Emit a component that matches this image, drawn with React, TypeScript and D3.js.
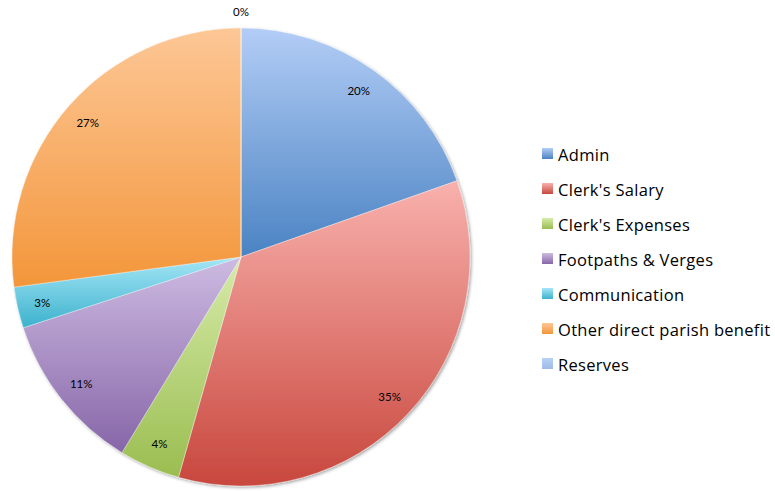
import React from "react";
import * as d3 from "d3";

const categories = [
  "Admin",
  "Clerk's Salary",
  "Clerk's Expenses",
  "Footpaths & Verges",
  "Communication",
  "Other direct parish benefit",
  "Reserves",
];
const values = [19.6, 34.8, 4.3, 11.3, 2.9, 27.1, 0];
const topColors = ["#b3cdf6", "#f9b1ad", "#d6eba9", "#cdbbe2", "#a5e6f6", "#fdc796", "#b9d1f5"];
const bottomColors = ["#4a83c3", "#c8473d", "#9abd50", "#8766a8", "#3cb2cd", "#f3963a", "#9dbbe8"];

const W = 775;
const H = 491;
const cx = 241;
const cy = 257;
const R = 229;

export default function App() {
  const total = d3.sum(values);
  const pie = d3
    .pie<number>()
    .sort(null)
    .value((d) => d)
    .startAngle(0)
    .endAngle(2 * Math.PI);
  const arcs = pie(values);
  const arcGen = d3.arc<d3.PieArcDatum<number>>().innerRadius(0).outerRadius(R);
  const labelArc = d3.arc<d3.PieArcDatum<number>>().innerRadius(R * 0.89).outerRadius(R * 0.89);
  const outerLabelArc = d3.arc<d3.PieArcDatum<number>>().innerRadius(R + 17).outerRadius(R + 17);
  const font = "Lato, 'Open Sans', sans-serif";
  const legendFont = "'Open Sans', Lato, sans-serif";

  return (
    <svg
      width={W}
      height={H}
      style={{ position: "absolute", left: 0, top: 0, display: "block", background: "#fff" }}
    >
      <defs>
        {categories.map((c, i) => (
          <linearGradient key={c} id={`g${i}`} x1="0" y1="0" x2="0" y2="1">
            <stop offset="0" stopColor={topColors[i]} />
            <stop offset="1" stopColor={bottomColors[i]} />
          </linearGradient>
        ))}
        <filter id="shadow" x="-10%" y="-10%" width="120%" height="120%">
          <feDropShadow dx="1.5" dy="1.5" stdDeviation="1.8" floodColor="#000" floodOpacity="0.35" />
        </filter>
      </defs>
      <g transform={`translate(${cx},${cy})`}>
        <g filter="url(#shadow)">
          {arcs.map((a, i) => (
            <path key={i} d={arcGen(a) || ""} fill={`url(#g${i})`} stroke="#ffffff" strokeWidth={0.6} strokeOpacity={0.6} />
          ))}
        </g>
        {arcs.map((a, i) => {
          const [x, y] = a.endAngle - a.startAngle > 0.001 ? labelArc.centroid(a) : outerLabelArc.centroid(a);
          return (
            <text
              key={`t${i}`}
              x={x}
              y={y}
              textAnchor="middle"
              dominantBaseline="central"
              fontFamily={font}
              fontSize={11.5}
              fill="#000"
            >
              {Math.round((values[i] / total) * 100)}%
            </text>
          );
        })}
      </g>
      <g>
        {categories.map((c, i) => {
          const y = 154 + i * 35;
          return (
            <g key={c}>
              <rect x={542} y={y - 6} width={11} height={11} fill={`url(#g${i})`} />
              <text
                x={558}
                y={y}
                dominantBaseline="central"
                fontFamily={legendFont}
                fontSize={16.5}
                letterSpacing={0.3}
                fill="#000"
              >
                {c}
              </text>
            </g>
          );
        })}
      </g>
    </svg>
  );
}
